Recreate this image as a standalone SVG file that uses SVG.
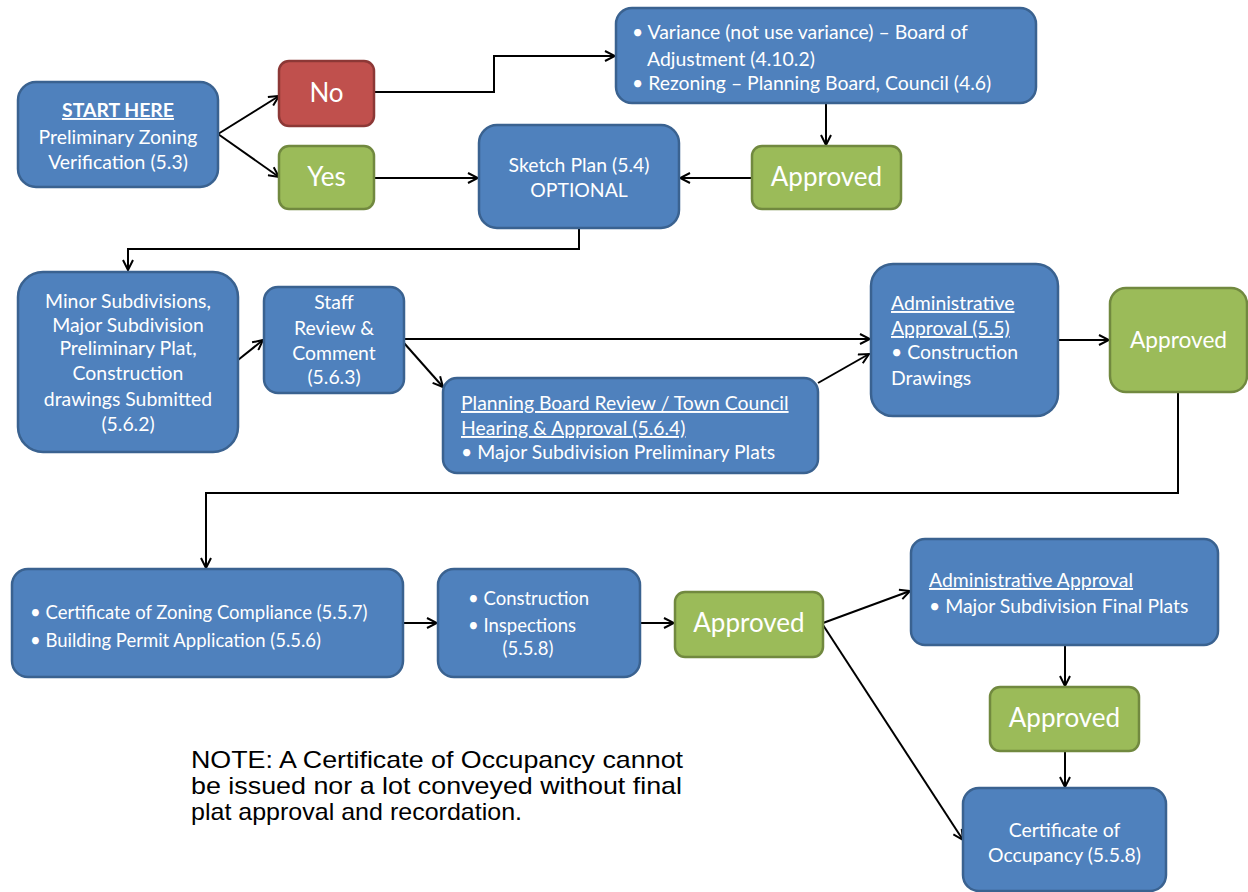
<svg xmlns="http://www.w3.org/2000/svg" width="1248" height="892" viewBox="0 0 1248 892">
<defs>
<marker id="arr" viewBox="0 0 12 12" refX="11" refY="6" markerWidth="12" markerHeight="12" markerUnits="userSpaceOnUse" orient="auto">
<path d="M1,1 L11,6 L1,11" fill="none" stroke="#000" stroke-width="2"/>
</marker>
</defs>
<style>
.b{fill:#4f81bd;stroke:#3a6290;stroke-width:2.5}
.g{fill:#9bbb59;stroke:#71893f;stroke-width:2.5}
.r{fill:#c0504d;stroke:#8c3836;stroke-width:2.5}
text{font-family:Lato,"Open Sans",sans-serif;fill:#fff;font-size:19.4px}
.s{font-size:18.5px}
.c{text-anchor:middle}
.big{font-size:26px}
.mid{font-size:22.7px}
.u{text-decoration:underline}
.note{font-family:"Liberation Sans",Arial,sans-serif;fill:#000;font-size:24px}
.l{fill:none;stroke:#000;stroke-width:2;marker-end:url(#arr)}
</style>
<rect width="1248" height="892" fill="#fff"/>
<g id="connectors">
<path class="l" d="M218,134 L279,96"/>
<path class="l" d="M218,134 L279,177"/>
<path class="l" d="M374,92 H494 V56 H615"/>
<path class="l" d="M374,178 H478"/>
<path class="l" d="M826,103 V145"/>
<path class="l" d="M752,178 H680"/>
<path class="l" d="M579,228 V249 H128 V270"/>
<path class="l" d="M238,360 L263,340"/>
<path class="l" d="M404,339 H870"/>
<path class="l" d="M404,343 L443,387"/>
<path class="l" d="M818,383 L869,354"/>
<path class="l" d="M1058,340 H1109"/>
<path class="l" d="M1178,392 V493 H206 V568"/>
<path class="l" d="M403,623 H437"/>
<path class="l" d="M640,623 H674"/>
<path class="l" d="M823,623 L910,591"/>
<path class="l" d="M823,625 L963,840"/>
<path class="l" d="M1065,645 V686"/>
<path class="l" d="M1065,751 V787"/>
</g>
<g id="start">
<rect class="b" x="18" y="82" width="200" height="105" rx="18"/>
<text class="c u" x="118" y="117" font-weight="bold">START HERE</text>
<text class="c" x="118" y="144">Preliminary Zoning</text>
<text class="c" x="118" y="169">Verification (5.3)</text>
</g>
<g id="no">
<rect class="r" x="279" y="61" width="95" height="65" rx="10"/>
<text class="c big" x="326.5" y="102">No</text>
</g>
<g id="yes">
<rect class="g" x="279" y="146" width="95" height="63" rx="10"/>
<text class="c big" x="326.5" y="186">Yes</text>
</g>
<g id="variance">
<rect class="b" x="616" y="8" width="420" height="95" rx="16"/>
<text x="632" y="39">• Variance (not use variance) – Board of</text>
<text x="647" y="66">Adjustment (4.10.2)</text>
<text x="632" y="90">• Rezoning – Planning Board, Council (4.6)</text>
</g>
<g id="sketch">
<rect class="b" x="479" y="125" width="200" height="103" rx="18"/>
<text class="c" x="579" y="172">Sketch Plan (5.4)</text>
<text class="c" x="579" y="197">OPTIONAL</text>
</g>
<g id="approved1">
<rect class="g" x="752" y="146" width="149" height="63" rx="10"/>
<text class="c big" x="826.5" y="186">Approved</text>
</g>
<g id="minor">
<rect class="b" x="18" y="272" width="220" height="180" rx="25"/>
<text class="c" x="128" y="308">Minor Subdivisions,</text>
<text class="c" x="128" y="332">Major Subdivision</text>
<text class="c" x="128" y="355">Preliminary Plat,</text>
<text class="c" x="128" y="380">Construction</text>
<text class="c" x="128" y="406">drawings Submitted</text>
<text class="c" x="128" y="431">(5.6.2)</text>
</g>
<g id="staff">
<rect class="b" x="264" y="287" width="140" height="106" rx="14"/>
<text class="c" x="334" y="309">Staff</text>
<text class="c" x="334" y="335">Review &amp;</text>
<text class="c" x="334" y="360">Comment</text>
<text class="c" x="334" y="384">(5.6.3)</text>
</g>
<g id="planning">
<rect class="b" x="443" y="378" width="375" height="95" rx="14"/>
<text class="u" x="461" y="410">Planning Board Review / Town Council</text>
<text class="u" x="461" y="435">Hearing &amp; Approval (5.6.4)</text>
<text x="461" y="459">• Major Subdivision Preliminary Plats</text>
</g>
<g id="admin1">
<rect class="b" x="871" y="264" width="187" height="152" rx="22"/>
<text class="u" x="891" y="310">Administrative</text>
<text class="u" x="891" y="335">Approval (5.5)</text>
<text x="891" y="359">•  Construction</text>
<text x="891" y="385">Drawings</text>
</g>
<g id="approved2">
<rect class="g" x="1110" y="288" width="137" height="104" rx="16"/>
<text class="c mid" x="1178.5" y="348">Approved</text>
</g>
<g id="zoning">
<rect class="b" x="12" y="569" width="391" height="108" rx="16"/>
<text class="s" x="30" y="619">• Certificate of Zoning Compliance (5.5.7)</text>
<text class="s" x="30" y="647">• Building Permit Application (5.5.6)</text>
</g>
<g id="construction">
<rect class="b" x="438" y="569" width="202" height="108" rx="16"/>
<text class="s" x="468" y="605">• Construction</text>
<text class="s" x="468" y="632">• Inspections</text>
<text class="s c" x="528" y="655">(5.5.8)</text>
</g>
<g id="approved3">
<rect class="g" x="675" y="592" width="148" height="65" rx="10"/>
<text class="c big" x="749" y="632">Approved</text>
</g>
<g id="admin2">
<rect class="b" x="911" y="539" width="307" height="106" rx="14"/>
<text class="u" x="929" y="587">Administrative Approval</text>
<text x="929" y="613">• Major Subdivision Final Plats</text>
</g>
<g id="approved4">
<rect class="g" x="990" y="687" width="149" height="64" rx="10"/>
<text class="c big" x="1064.5" y="727">Approved</text>
</g>
<g id="occupancy">
<rect class="b" x="963" y="788" width="203" height="103" rx="16"/>
<text class="c" x="1064.5" y="837">Certificate of</text>
<text class="c" x="1064.5" y="862">Occupancy (5.5.8)</text>
</g>
<g id="note">
<text class="note" x="191" y="768" textLength="492" lengthAdjust="spacingAndGlyphs">NOTE: A Certificate of Occupancy cannot</text>
<text class="note" x="191" y="794" textLength="491" lengthAdjust="spacingAndGlyphs">be issued nor a lot conveyed without final</text>
<text class="note" x="191" y="820" textLength="331" lengthAdjust="spacingAndGlyphs">plat approval and recordation.</text>
</g>
</svg>
